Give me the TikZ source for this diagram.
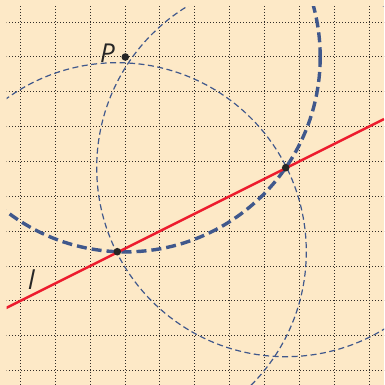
\documentclass[tikz,border=0pt]{standalone}
\usepackage{fontspec}
\newfontfamily\labfont{Open Sans}
\definecolor{bg}{RGB}{253,233,199}
\definecolor{arcblue}{RGB}{64,88,140}
\definecolor{lred}{RGB}{237,28,46}
\definecolor{griddot}{RGB}{50,45,40}
\tikzset{
  gridline/.style={griddot, line width=0.9pt, dash pattern=on 0.9pt off 2.1pt},
  thickarc/.style={arcblue, line width=3.4pt, dash pattern=on 10pt off 5pt},
  thinarc/.style={arcblue, line width=1.2pt, dash pattern=on 6pt off 3.5pt},
  redline/.style={lred, line width=2.4pt},
  dot/.style={circle, fill=black!85, inner sep=0pt, minimum size=7.6pt},
  lab/.style={font=\labfont\itshape\fontsize{26}{26}\selectfont, text=black!85, inner sep=0pt, anchor=base}
}
\begin{document}
\begin{tikzpicture}[x=1pt,y=-1pt]
\useasboundingbox (0,0) rectangle (384,385);
\fill[bg] (0,0) rectangle (384,385);
\coordinate (L1) at (0,311.05);
\coordinate (L2) at (384,119.05);
\begin{scope}
\clip (6.5,6.5) rectangle (384,385);
\foreach \k in {0,...,10} {
  \draw[gridline] ({20.5+34.85*\k},0) -- ({20.5+34.85*\k},385);
  \draw[gridline] (0,{22+34.85*\k}) -- (384,{22+34.85*\k});
}
\draw[thinarc] (117.3,251.7) circle[radius=189];
\draw[thinarc] (285.7,167.7) circle[radius=189];
\draw[thickarc] (125.3,57) circle[radius=194.9];
\draw[redline] (L1) -- (L2);
\end{scope}
\node[dot] (P) at (125.3,57) {};
\node[dot] (A) at (117.3,251.7) {};
\node[dot] (B) at (285.7,167.7) {};
\node[lab] (Plab) at (107.5,63) {P};
\node[lab] (llab) at (31.5,289) {l};
\end{tikzpicture}
\end{document}
